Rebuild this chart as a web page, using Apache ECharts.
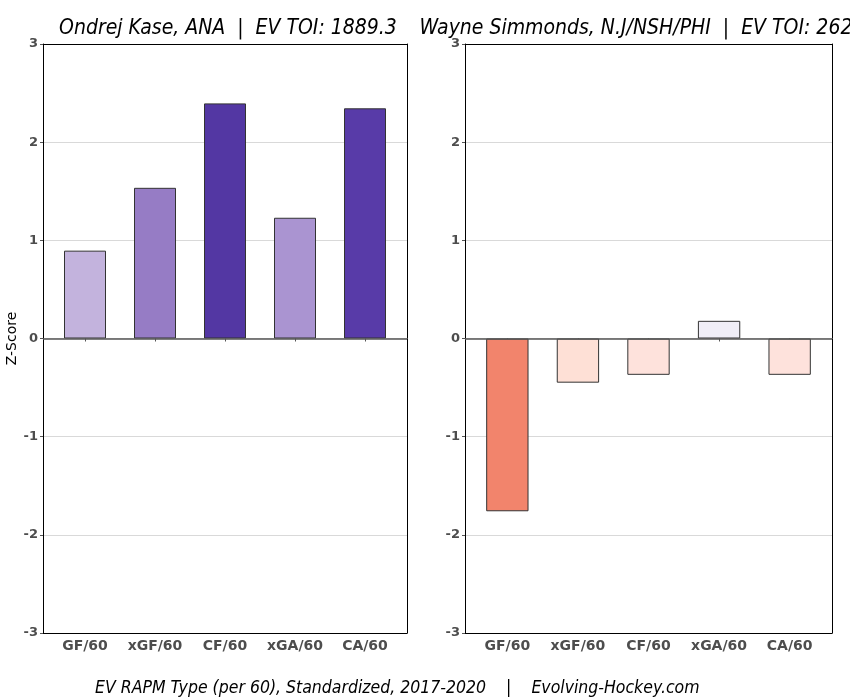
<!DOCTYPE html>
<html><head><meta charset="utf-8">
<script src="https://cdn.jsdelivr.net/npm/echarts@6/dist/echarts.min.js"></script>
<style>html,body{margin:0;padding:0;background:#fff}#c{width:850px;height:700px}</style>
</head><body><div id="c"></div>
<script>
const categories = ["GF/60","xGF/60","CF/60","xGA/60","CA/60"];
const kaseValues = [0.895, 1.535, 2.395, 1.23, 2.345];
const kaseColors = ["#c3b3dd","#967cc5","#5337a3","#aa94d1","#583ba8"];
const simmondsValues = [-1.76, -0.45, -0.37, 0.18, -0.37];
const simmondsColors = ["#f2846c","#fee0d6","#fee2dc","#f0eef7","#fee2dc"];
const yTicks = [-3,-2,-1,0,1,2,3];
const titleLeft = "Ondrej Kase, ANA  |  EV TOI: 1889.3";
const titleRight = "Wayne Simmonds, N.J/NSH/PHI  |  EV TOI: 2620.4";
const caption = "EV RAPM Type (per 60), Standardized, 2017-2020    |    Evolving-Hockey.com";

const chart = echarts.init(document.getElementById('c'), null, {renderer:'canvas'});
const font = "DejaVu Sans";
const condFont = "'DejaVu Sans Condensed', 'DejaVu Sans'";
// frame grids (0,1) and bar grids (2,3)
const frames = [{left:43, width:364}, {left:465, width:367}];
const grids = [];
frames.forEach(f => grids.push({left:f.left, top:44, width:f.width, height:589, show:false}));
frames.forEach(f => { const u = f.width/5.2; grids.push({left:f.left+0.1*u, top:44, width:5*u, height:589, show:false}); });

const frameLine = {show:true, onZero:false, lineStyle:{color:'#000', width:1}};
const xAxes = [], yAxes = [];
for (let i=0;i<2;i++){
  ['bottom','top'].forEach(pos => xAxes.push({type:'value', gridIndex:i, min:0, max:1, position:pos,
    axisLine:frameLine, axisTick:{show:false}, axisLabel:{show:false}, splitLine:{show:false}}));
  yAxes.push({type:'value', gridIndex:i, min:-3, max:3, interval:1, position:'left',
    name: i===0 ? 'Z-Score' : '', nameLocation:'middle', nameGap:17, nameRotate:90,
    nameTextStyle:{fontFamily:font, fontSize:14, color:'#000'},
    axisLine:frameLine, axisTick:{show:true, length:3, lineStyle:{color:'#555'}},
    splitLine:{show:true, lineStyle:{color:'#d9d9d9', width:1}},
    axisLabel:{fontFamily:font, fontWeight:'bold', fontSize:13, color:'#4d4d4d', margin:5,
      formatter: v => yTicks.includes(v) ? String(v) : ''}});
  yAxes.push({type:'value', gridIndex:i, min:-3, max:3, interval:1, position:'right',
    axisLine:frameLine, axisTick:{show:false}, axisLabel:{show:false}, splitLine:{show:false}});
}
for (let i=0;i<2;i++){
  xAxes.push({type:'category', gridIndex:2+i, data:categories, position:'bottom',
    axisLine:{show:false}, axisTick:{show:true, alignWithLabel:true, interval:0, length:3, lineStyle:{color:'#555'}},
    axisLabel:{fontFamily:font, fontWeight:'bold', fontSize:14, color:'#4d4d4d', margin:6, interval:0, hideOverlap:false}});
  yAxes.push({type:'value', gridIndex:2+i, min:-3, max:3, interval:1, show:false, splitLine:{show:false}});
}
// axis indices: frame x: 0,1 (grid0), 2,3 (grid1); bar x: 4,5. frame y: 0,1 (grid0), 2,3 (grid1); bar y: 4,5
function zeroLine(i){
  return {type:'line', xAxisIndex:2*i, yAxisIndex:2*i, data:[], silent:true,
    markLine:{symbol:'none', silent:true, label:{show:false}, lineStyle:{color:'#555', type:'solid', width:1.5},
      data:[{yAxis:0}]}};
}
function barSeries(i, vals, cols){
  return {type:'bar', xAxisIndex:4+i, yAxisIndex:4+i, barWidth:'60%', z:3,
    data: vals.map((v,k)=>({value:v, itemStyle:{color:cols[k], borderColor:'#333', borderWidth:1}}))};
}
chart.setOption({
  animation:false,
  backgroundColor:'#fff',
  title:[
    {text:titleLeft, left:223, textAlign:'center', top:13, textStyle:{fontFamily:condFont, fontStyle:'italic', fontWeight:'normal', fontSize:21, color:'#000'}},
    {text:titleRight, left:646, textAlign:'center', top:13, textStyle:{fontFamily:condFont, fontStyle:'italic', fontWeight:'normal', fontSize:21, color:'#000'}},
    {text:caption, left:90, top:674, textStyle:{fontFamily:condFont, fontStyle:'italic', fontWeight:'normal', fontSize:17.5, color:'#000'}}
  ],
  grid:grids,
  xAxis:xAxes,
  yAxis:yAxes,
  series:[zeroLine(0), zeroLine(1), barSeries(0, kaseValues, kaseColors), barSeries(1, simmondsValues, simmondsColors)]
});
</script></body></html>
